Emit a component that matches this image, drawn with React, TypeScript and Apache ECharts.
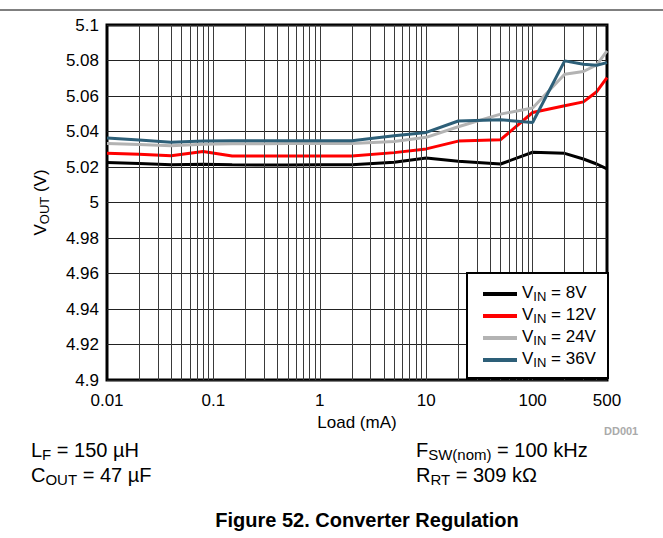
import React, { useEffect, useRef } from "react";
import * as echarts from "echarts";

const loads = [0.01, 0.02, 0.04, 0.08, 0.15, 0.3, 0.5, 1, 2, 5, 10, 20, 50, 100, 200, 300, 400, 500];
const vin8 = [5.0226, 5.022, 5.0213, 5.0215, 5.0212, 5.0211, 5.0211, 5.0212, 5.0213, 5.0227, 5.0251, 5.0232, 5.0217, 5.0283, 5.0277, 5.0245, 5.0217, 5.0189];
const vin12 = [5.0277, 5.0272, 5.0264, 5.0287, 5.0262, 5.0262, 5.0262, 5.0262, 5.0262, 5.0281, 5.0302, 5.0346, 5.0354, 5.0507, 5.0545, 5.0567, 5.0624, 5.0704];
const vin24 = [5.0333, 5.0327, 5.032, 5.0328, 5.0331, 5.0331, 5.0332, 5.0332, 5.0333, 5.0344, 5.0367, 5.0427, 5.0498, 5.0532, 5.0723, 5.0738, 5.0775, 5.0854];
const vin36 = [5.0363, 5.0352, 5.0339, 5.0347, 5.0348, 5.0348, 5.0348, 5.0348, 5.0348, 5.0376, 5.0395, 5.0459, 5.0466, 5.0451, 5.0798, 5.0779, 5.0773, 5.0788];

const seriesNames = ["VIN = 8V", "VIN = 12V", "VIN = 24V", "VIN = 36V"];
const seriesColors = ["#000000", "#ff0000", "#b3b3b3", "#2d5f78"];
const xTickLabels = ["0.01", "0.1", "1", "10", "100", "500"];
const gridXValues = [
  0.02, 0.03, 0.04, 0.05, 0.06, 0.07, 0.08, 0.09,
  0.1, 0.2, 0.3, 0.4, 0.5, 0.6, 0.7, 0.8, 0.9,
  1, 2, 3, 4, 5, 6, 7, 8, 9,
  10, 20, 30, 40, 50, 60, 70, 80, 90,
  100, 200, 300, 400,
];

const FONT = "'Liberation Sans', Arial, sans-serif";

export default function App() {
  const ref = useRef<HTMLDivElement>(null);

  useEffect(() => {
    if (!ref.current) return;
    const chart = echarts.init(ref.current, null, { renderer: "svg" });
    const allValues = [vin8, vin12, vin24, vin36];
    const series: any[] = [
      {
        name: "grid",
        type: "line",
        data: [],
        silent: true,
        z: 1,
        markLine: {
          silent: true,
          symbol: ["none", "none"],
          label: { show: false },
          lineStyle: { color: "#3a3a3a", width: 1, type: "solid" },
          emphasis: { disabled: true },
          animation: false,
          data: gridXValues.map((v) => ({ xAxis: v })),
        },
      },
    ];
    seriesNames.forEach((name, i) => {
      series.push({
        name,
        type: "line",
        z: 3 + i,
        showSymbol: false,
        symbol: "none",
        lineStyle: { color: seriesColors[i], width: 3 },
        itemStyle: { color: seriesColors[i] },
        emphasis: { disabled: true },
        data: loads.map((x, j) => [x, allValues[i][j]]),
      });
    });

    const subRich = {
      n: { fontSize: 20, fontFamily: FONT, color: "#000", lineHeight: 24, verticalAlign: "top" },
      s: { fontSize: 15, fontFamily: FONT, color: "#000", lineHeight: 15, padding: [7, 0, 0, 0], verticalAlign: "top" },
    };
    const smallRich = {
      n: { fontSize: 17, fontFamily: FONT, color: "#000", lineHeight: 20, verticalAlign: "top" },
      s: { fontSize: 13, fontFamily: FONT, color: "#000", lineHeight: 13, padding: [6, 0, 0, 0], verticalAlign: "top" },
    };

    chart.setOption({
      animation: false,
      textStyle: { fontFamily: FONT },
      grid: {
        left: 107,
        top: 25,
        width: 500,
        height: 355,
        show: true,
        borderColor: "#000",
        borderWidth: 3,
        backgroundColor: "transparent",
      },
      xAxis: {
        type: "log",
        logBase: 10,
        min: 0.01,
        max: 500,
        axisLine: { show: false },
        axisTick: { show: false },
        splitLine: { show: false },
        axisLabel: {
          fontSize: 17,
          color: "#000",
          fontFamily: FONT,
          margin: 12,
          showMaxLabel: true,
          showMinLabel: true,
          formatter: (v: number) => {
            const s = String(parseFloat(v.toPrecision(3)));
            return xTickLabels.includes(s) ? s : "";
          },
        },
        name: "Load (mA)",
        nameLocation: "middle",
        nameGap: 31,
        nameTextStyle: { fontSize: 17, color: "#000", fontFamily: FONT },
      },
      yAxis: {
        type: "value",
        min: 4.9,
        max: 5.1,
        interval: 0.02,
        axisLine: { show: false },
        axisTick: { show: false },
        splitLine: { show: true, lineStyle: { color: "#222", width: 1 } },
        axisLabel: { fontSize: 17, color: "#000", fontFamily: FONT, margin: 8 },
        name: "{n|V}{s|OUT}{n| (V)}",
        nameLocation: "middle",
        nameRotate: 90,
        nameGap: 55,
        nameTextStyle: { rich: smallRich },
      },
      legend: {
        data: seriesNames,
        orient: "vertical",
        left: 478,
        top: 279,
        itemWidth: 34,
        itemHeight: 4,
        itemGap: 3,
        icon: "rect",
        z: 20,
        selectedMode: false,
        formatter: (name: string) => `{n|V}{s|IN}{n| = ${name.split("= ")[1]}}`,
        textStyle: { rich: smallRich },
      },
      graphic: [
        { type: "line", z: 10, shape: { x1: 0, y1: 10, x2: 663, y2: 10 }, style: { stroke: "#000", lineWidth: 1 } },
        { type: "rect", z: 15, shape: { x: 467, y: 273, width: 141, height: 105 }, style: { fill: "#fff", stroke: "#000", lineWidth: 2 } },
        { type: "text", z: 10, x: 604, y: 425, style: { text: "DD001", font: `bold 11px ${FONT}`, fill: "#aaa" } },
        { type: "text", z: 10, x: 31, y: 440, style: { text: "{n|L}{s|F}{n| = 150 µH}", rich: subRich } },
        { type: "text", z: 10, x: 31, y: 465, style: { text: "{n|C}{s|OUT}{n| = 47 µF}", rich: subRich } },
        { type: "text", z: 10, x: 416, y: 440, style: { text: "{n|F}{s|SW(nom)}{n| = 100 kHz}", rich: subRich } },
        { type: "text", z: 10, x: 416, y: 465, style: { text: "{n|R}{s|RT}{n| = 309 kΩ}", rich: subRich } },
        {
          type: "text",
          z: 10,
          x: 367,
          y: 520,
          style: {
            text: "Figure 52. Converter Regulation",
            font: `bold 20px ${FONT}`,
            fill: "#000",
            align: "center",
            verticalAlign: "middle",
          },
        },
      ],
      series,
    });
    return () => chart.dispose();
  }, []);

  return (
    <div
      ref={ref}
      style={{ position: "fixed", left: 0, top: 0, width: 663, height: 538, background: "#fff" }}
    />
  );
}
